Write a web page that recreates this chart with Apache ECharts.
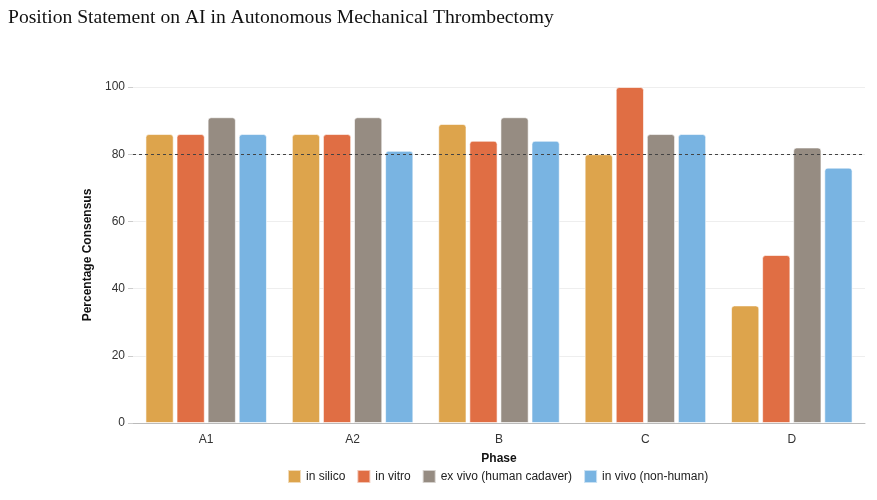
<!DOCTYPE html>
<html>
<head>
<meta charset="utf-8">
<script src="https://cdn.jsdelivr.net/npm/echarts@6/dist/echarts.min.js"></script>
<style>html,body{margin:0;padding:0;background:#fff}#c{width:877px;height:500px}</style>
</head>
<body>
<div id="c"></div>
<script>
const categories = ['A1', 'A2', 'B', 'C', 'D'];
const inSilico = [86, 86, 89, 80, 35];
const inVitro = [86, 86, 84, 100, 50];
const exVivo = [91, 91, 91, 86, 82];
const inVivo = [86, 81, 84, 86, 76];
const seriesNames = ['in silico', 'in vitro', 'ex vivo (human cadaver)', 'in vivo (non-human)'];
const colors = ['#DDA44C', '#E06E44', '#968C82', '#79B4E2'];
const yTicks = [0, 20, 40, 60, 80, 100];
const thresholdValue = 80;

const chart = echarts.init(document.getElementById('c'), null, {renderer: 'canvas'});
const dataSets = [inSilico, inVitro, exVivo, inVivo];
const series = dataSets.map((d, i) => ({
  name: seriesNames[i],
  type: 'bar',
  data: d,
  barGap: '10%',
  barCategoryGap: '17%',
  itemStyle: {color: colors[i], borderRadius: [3, 3, 0, 0], borderColor: 'rgba(255,255,255,0.6)', borderWidth: 1},
  markLine: i === 0 ? {
    silent: true,
    symbol: 'none',
    label: {show: false},
    lineStyle: {color: '#444', type: [3, 3], width: 1},
    data: [{yAxis: thresholdValue}]
  } : undefined
}));

chart.setOption({
  animation: false,
  color: colors,
  title: {
    text: 'Position Statement on AI in Autonomous Mechanical Thrombectomy',
    left: 3, top: 3,
    textStyle: {fontFamily: 'Liberation Serif', fontWeight: 'normal', fontSize: 19.6, color: '#111'}
  },
  grid: {left: 133, right: 12, top: 87, bottom: 77},
  legend: {
    bottom: 11, left: 282,
    itemWidth: 13, itemHeight: 13, itemGap: 11,
    icon: 'rect',
    textStyle: {fontFamily: 'Liberation Sans', fontSize: 12, color: '#222'},
    data: seriesNames
  },
  xAxis: {
    type: 'category',
    data: categories,
    name: 'Phase',
    nameLocation: 'middle',
    nameGap: 30,
    nameTextStyle: {fontFamily: 'Liberation Sans', fontWeight: 'bold', fontSize: 12, color: '#111'},
    axisLine: {lineStyle: {color: '#bbb'}},
    axisTick: {show: false},
    axisLabel: {fontFamily: 'Liberation Sans', fontSize: 12, color: '#333', margin: 11}
  },
  yAxis: {
    type: 'value',
    min: yTicks[0], max: yTicks[yTicks.length - 1], interval: 20,
    name: 'Percentage Consensus',
    nameLocation: 'middle',
    nameGap: 35,
    nameTextStyle: {fontFamily: 'Liberation Sans', fontWeight: 'bold', fontSize: 12, color: '#111'},
    axisLine: {show: false},
    axisTick: {show: true, length: 5, lineStyle: {color: '#ccc'}},
    splitLine: {lineStyle: {color: '#eee'}},
    axisLabel: {fontFamily: 'Liberation Sans', fontSize: 12, color: '#333', margin: 8}
  },
  series: series
});
</script>
</body>
</html>
